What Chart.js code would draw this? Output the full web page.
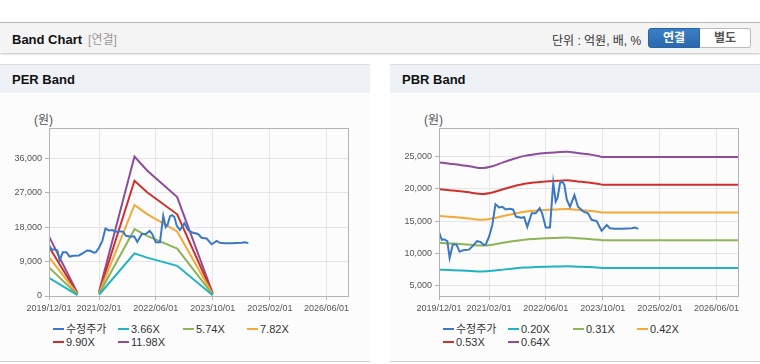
<!DOCTYPE html>
<html><head><meta charset="utf-8">
<script src="https://cdn.jsdelivr.net/npm/chart.js@4/dist/chart.umd.min.js"></script>
<style>
html,body{margin:0;padding:0;background:#fff;}
body{width:760px;height:364px;position:relative;overflow:hidden;font-family:Arial,"Liberation Sans","Noto Sans CJK KR",sans-serif;color:#222;}
.abs{position:absolute;}
#topbar{left:0;top:22px;width:760px;height:30px;background:#f4f4f4;border-top:1px solid #b8b8b8;box-shadow:0 1px 2px rgba(0,0,0,0.25);}
#title{left:12px;top:30px;font-size:13px;font-weight:bold;color:#111;}
#title span{font-weight:normal;color:#999;font-size:12px;margin-left:6px;}
#unit{left:552px;top:31px;font-size:12px;color:#333;}
#btn1{left:648px;top:28px;width:52px;height:20px;background:linear-gradient(#3b7fc8,#2c68ad);border:1px solid #2a62a3;box-sizing:border-box;border-radius:3px 0 0 3px;color:#fff;font-weight:bold;font-size:12px;text-align:center;line-height:18px;}
#btn2{left:700px;top:28px;width:51px;height:20px;background:#fff;border:1px solid #bbb;border-left:none;box-sizing:border-box;border-radius:0 3px 3px 0;color:#555;font-weight:bold;font-size:12px;text-align:center;line-height:18px;}
.phead{top:64px;height:28px;background:#eef2f7;border-top:1px solid #dcdcdc;}
.phead div{position:absolute;left:12px;top:7px;font-size:13px;font-weight:bold;color:#111;}
.pbody{top:93px;height:268px;background:#fcfcfc;border-bottom:1px solid #cfcfcf;}
.won{font-size:12px;color:#555;top:110px;}
.legend{font-size:11px;color:#333;}
.litem{position:absolute;height:13px;line-height:13px;white-space:nowrap;}
.litem i{position:absolute;left:0;top:5px;width:11px;height:2px;}
.litem b{position:absolute;left:13px;top:0;font-weight:normal;}
</style></head>
<body>
<div id="topbar" class="abs"></div>
<div id="title" class="abs">Band Chart<span>[연결]</span></div>
<div id="unit" class="abs">단위 : 억원, 배, %</div>
<div id="btn1" class="abs">연결</div>
<div id="btn2" class="abs">별도</div>

<div class="abs phead" style="left:0;width:370px;"><div>PER Band</div></div>
<div class="abs phead" style="left:390px;width:370px;"><div>PBR Band</div></div>
<div class="abs pbody" style="left:0;width:370px;"></div>
<div class="abs pbody" style="left:390px;width:370px;"></div>
<div class="abs won" style="left:34px;">(원)</div>
<div class="abs won" style="left:424px;">(원)</div>

<canvas id="per" class="abs" width="370" height="220" style="left:0;top:100px;"></canvas>
<canvas id="pbr" class="abs" width="370" height="220" style="left:390px;top:100px;"></canvas>
<div id="perLegend" class="abs legend" style="left:53px;top:323px;"></div>
<div id="pbrLegend" class="abs legend" style="left:443px;top:323px;"></div>

<script>
// ---------- data ----------
const xTickLabels = ['2019/12/01','2021/02/01','2022/06/01','2023/10/01','2025/02/01','2026/06/01'];
const xStart = '2019-12-01';
const xEnd = '2026-12-01';

const priceName = '수정주가';
const priceDates = ['2019-12-01','2019-12-25','2020-01-13','2020-02-10','2020-03-01','2020-03-28','2020-04-28','2020-05-25','2020-06-25','2020-08-13','2020-09-16','2020-10-22','2020-11-19','2020-12-19','2021-01-04','2021-02-01','2021-03-01','2021-03-28','2021-04-28','2021-05-25','2021-06-22','2021-07-25','2021-08-25','2021-09-19','2021-11-01','2021-11-28','2021-12-25','2022-02-01','2022-03-07','2022-04-10','2022-05-01','2022-06-01','2022-07-07','2022-08-04','2022-08-25','2022-09-10','2022-10-01','2022-10-19','2022-11-07','2022-11-28','2022-12-25','2023-02-01','2023-03-04','2023-04-16','2023-05-28','2023-06-28','2023-08-10','2023-09-22','2023-11-04','2023-12-01','2024-01-13','2024-03-10','2024-06-04','2024-07-04','2024-08-01'];
const priceValues = [13300,12100,12200,11900,9300,11400,11400,10300,10500,10600,11200,11900,11800,11300,11400,12600,14400,17600,17100,17200,16800,16900,16800,15700,15500,15600,14100,16200,16200,17000,16200,14000,14000,20900,18000,18600,20850,21100,20600,18300,17200,19000,17200,16500,16200,15200,15000,13500,14400,13900,13800,13800,13900,14000,13800];

// PER band
const perNames = ['3.66X','5.74X','7.82X','9.90X','11.98X'];
const perDates = ['2019-12-01','2020-08-01','2020-11-01','2021-02-01','2021-12-01','2022-03-19','2022-12-01','2023-10-01'];
const per366  = [4758, 220, null, 329, 11126, 10010, 7887, 220];
const per574  = [7462, 344, null, 517, 17450, 15699, 12370, 344];
const per782  = [10166, 469, null, 704, 23773, 21388, 16852, 469];
const per990  = [12870, 594, null, 891, 30096, 27077, 21335, 594];
const per1198 = [15574, 719, null, 1078, 36419, 32765, 25817, 719];
const perYTicks = [0, 9000, 18000, 27000, 36000];

// PBR band
const pbrNames = ['0.20X','0.31X','0.42X','0.53X','0.64X'];
const pbrDates = ['2019-12-01','2020-03-01','2020-06-01','2020-09-01','2020-12-01','2021-03-01','2021-06-01','2021-09-01','2021-12-01','2022-03-01','2022-06-01','2022-09-01','2022-12-01','2023-03-01','2023-06-01','2023-09-01','2023-10-01','2026-12-01'];
const pbr020 = [7512,7454,7394,7312,7240,7328,7516,7688,7828,7906,7962,8000,8032,7968,7906,7812,7772,7772];
const pbr031 = [11644,11554,11461,11334,11222,11358,11650,11916,12133,12254,12341,12400,12450,12350,12254,12109,12047,12047];
const pbr042 = [15775,15653,15527,15355,15204,15389,15784,16145,16439,16603,16720,16800,16867,16733,16603,16405,16321,16321];
const pbr053 = [19907,19753,19594,19377,19186,19419,19917,20373,20744,20951,21099,21200,21285,21115,20951,20702,20596,20596];
const pbr064 = [24038,23853,23661,23398,23168,23450,24051,24602,25050,25299,25478,25600,25702,25498,25299,24998,24870,24870];
const pbrYTicks = [5000, 10000, 15000, 20000, 25000];

const colors = ['#3b78c6','#20b3c4','#8db556','#f4a935','#cf302b','#8e4c9d'];

// ---------- helpers ----------
const ts = s => { const p = s.replace(/\//g,'-').split('-').map(Number); return Date.UTC(p[0], p[1]-1, p[2]); };
const pts = (dates, vals) => dates.map((d,i) => ({x: ts(d), y: vals[i]}));

const boxPlugin = {
  id: 'box',
  afterDraw(chart) {
    const a = chart.chartArea, c = chart.ctx;
    c.save(); c.strokeStyle = '#b3b3b3'; c.lineWidth = 1;
    c.strokeRect(Math.round(a.left)+0.5, Math.round(a.top)+0.5, Math.round(a.right-a.left), Math.round(a.bottom-a.top));
    c.restore();
  }
};

function makeChart(id, datasets, yMin, yMax, yTicks, smooth) {
  const tickMap = {};
  xTickLabels.forEach(l => tickMap[ts(l)] = l);
  return new Chart(document.getElementById(id), {
    type: 'line',
    data: { datasets },
    plugins: [boxPlugin],
    options: {
      responsive: false, animation: false, maintainAspectRatio: false,
      layout: { padding: { top: 28, right: 22, left: 0, bottom: 0 } },
      elements: { point: { radius: 0, hoverRadius: 0 }, line: { borderWidth: 2, tension: 0 } },
      plugins: { legend: { display: false }, tooltip: { enabled: false } },
      scales: {
        x: {
          type: 'linear', min: ts(xStart), max: ts(xEnd),
          afterBuildTicks: s => { s.ticks = xTickLabels.map(l => ({ value: ts(l) })); },
          afterFit: s => { s.height = 24; },
          ticks: { autoSkip: false, maxRotation: 0, padding: 3, color: '#555',
            font: { family: 'Arial, "Liberation Sans", sans-serif', size: 9 },
            callback: v => tickMap[v] || '' },
          grid: { color: '#e6e6e6', tickColor: '#b3b3b3', tickLength: 4 },
          border: { color: '#b3b3b3' }
        },
        y: {
          type: 'linear', min: yMin, max: yMax,
          afterBuildTicks: s => { s.ticks = yTicks.map(v => ({ value: v })); },
          afterFit: s => { s.width = 49; },
          ticks: { padding: 3, color: '#555',
            font: { family: 'Arial, "Liberation Sans", sans-serif', size: 9 },
            callback: v => v.toLocaleString('en-US') },
          grid: { color: '#e6e6e6', tickColor: '#b3b3b3', tickLength: 4 },
          border: { color: '#b3b3b3' }
        }
      }
    }
  });
}

function bandSet(name, dates, vals, color, smooth) {
  return { label: name, data: pts(dates, vals), borderColor: color, backgroundColor: color,
    spanGaps: false, cubicInterpolationMode: smooth ? 'monotone' : 'default', fill: false };
}

const priceSet = () => ({ label: priceName, data: pts(priceDates, priceValues), borderColor: colors[0], backgroundColor: colors[0], fill: false });

const perSeries = [per366, per574, per782, per990, per1198];
const pbrSeries = [pbr020, pbr031, pbr042, pbr053, pbr064];

const perChart = makeChart('per',
  [priceSet()].concat(perSeries.map((v,i) => bandSet(perNames[i], perDates, v, colors[i+1], false))),
  0, 43860, perYTicks);
const pbrChart = makeChart('pbr',
  [priceSet()].concat(pbrSeries.map((v,i) => bandSet(pbrNames[i], pbrDates, v, colors[i+1], true))),
  3450, 29350, pbrYTicks);

function buildLegend(chart, elId) {
  const el = document.getElementById(elId);
  const colX = [0, 65, 130, 194];
  chart.data.datasets.forEach((ds, i) => {
    const d = document.createElement('div');
    d.className = 'litem';
    d.style.left = colX[i % 4] + 'px';
    d.style.top = (Math.floor(i / 4) * 13) + 'px';
    d.innerHTML = '<i style="background:' + ds.borderColor + '"></i><b>' + ds.label + '</b>';
    el.appendChild(d);
  });
}
buildLegend(perChart, 'perLegend');
buildLegend(pbrChart, 'pbrLegend');
</script>
</body></html>
